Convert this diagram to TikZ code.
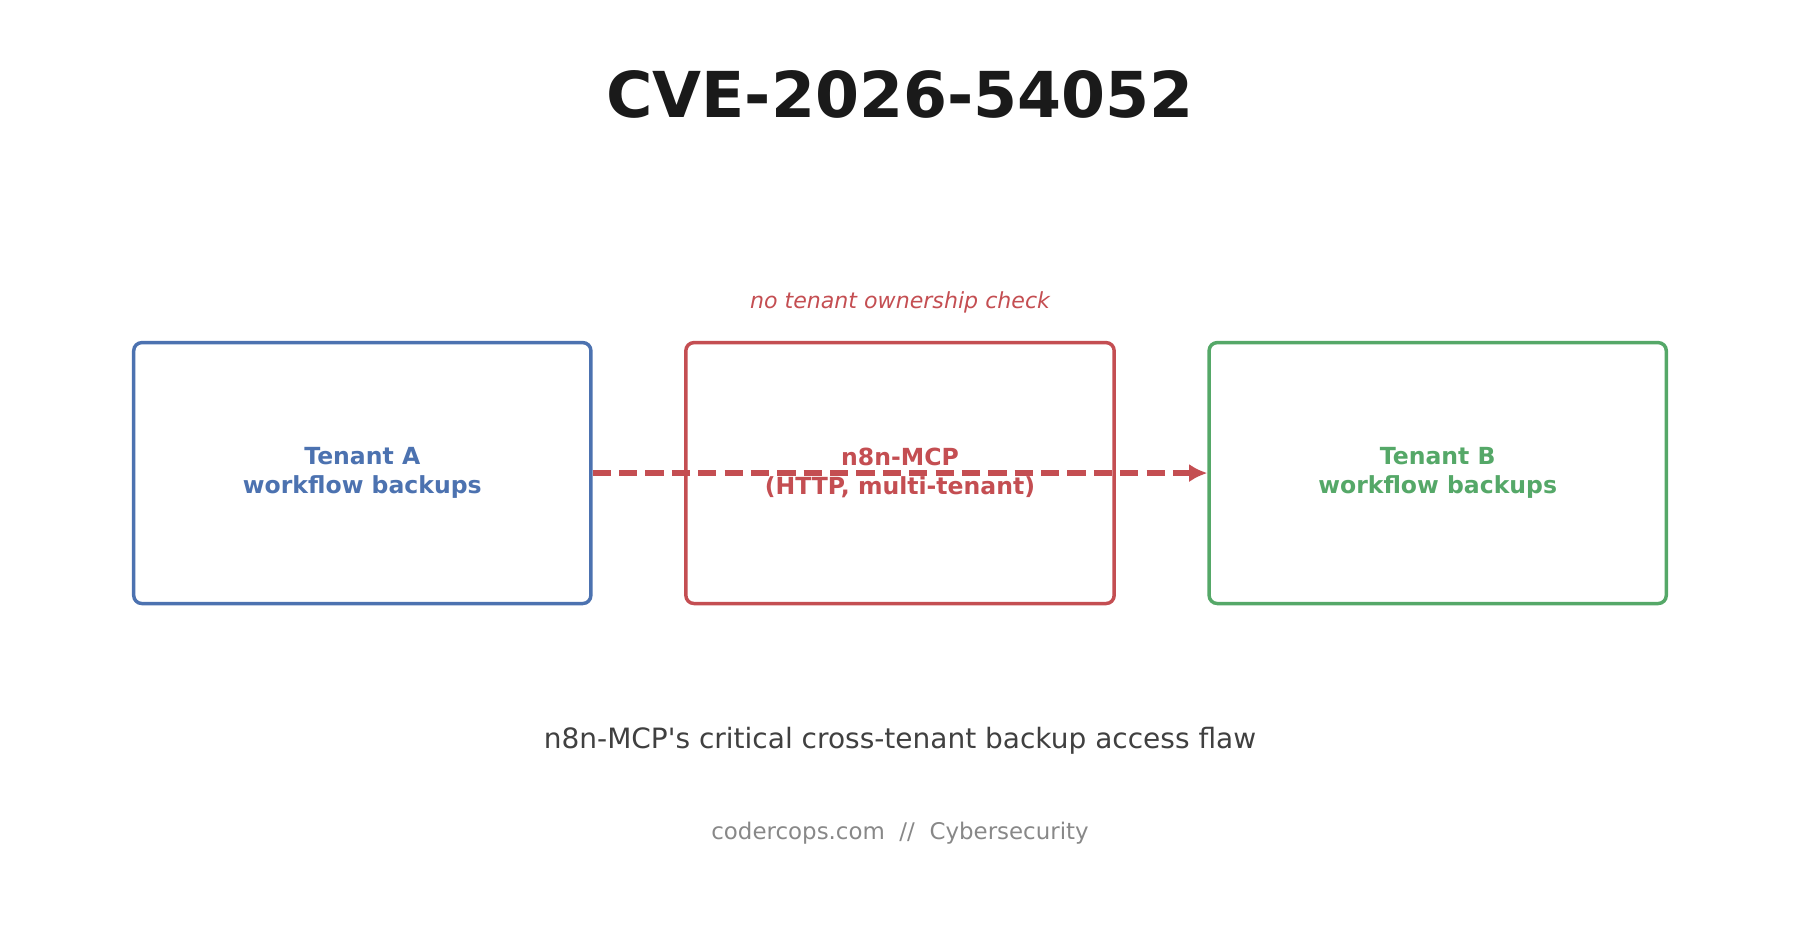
\documentclass[tikz,border=0pt]{standalone}
\usepackage{fontspec}
\setmainfont{DejaVu Sans}
\usetikzlibrary{arrows.meta,positioning}
\definecolor{tblue}{HTML}{4C72B0}
\definecolor{tred}{HTML}{C44E52}
\definecolor{tgreen}{HTML}{55A868}
\definecolor{tdark}{HTML}{1A1A1A}
\definecolor{tgray}{HTML}{404040}
\definecolor{tlight}{HTML}{888888}
\tikzset{
  box/.style={draw, rounded corners=2pt, line width=0.85pt, fill=white,
    minimum width=3.96cm, minimum height=2.26cm, align=center,
    font=\fontsize{5.8}{7}\selectfont\bfseries},
  flow/.style={-{Latex[length=4.5pt,width=4.5pt]}, line width=1.3pt, dash pattern=on 4.5pt off 2pt}
}
\begin{document}
\begin{tikzpicture}[x=0.01cm,y=-0.01cm]
    \useasboundingbox (0,0) rectangle (1560,819);

    \node[text=tdark, font=\fontsize{15.6}{18}\selectfont\bfseries] (title) at (780,82) {CVE-2026-54052};

    \node[box, draw=tblue, text=tblue] (tenantA) at (314,410) {Tenant A\\workflow backups};
    \node[box, draw=tred, text=tred, minimum width=3.71cm] (mcp) at (780,410) {n8n-MCP\\(HTTP, multi-tenant)};
    \node[box, draw=tgreen, text=tgreen] (tenantB) at (1246,410) {Tenant B\\workflow backups};

    \node[text=tred, font=\fontsize{5.45}{6.5}\selectfont\itshape, above=0.12cm of mcp] (check) {no tenant ownership check};

    \draw[flow, tred] (tenantA) -- (tenantB);

    \node[text=tgray, font=\fontsize{6.9}{8}\selectfont] (caption) at (780,642) {n8n-MCP\textquotesingle s critical cross-tenant backup access flaw};
    \node[text=tlight, font=\fontsize{5.65}{7}\selectfont] (footer) at (780,722) {codercops.com\ \ //\ \ Cybersecurity};
\end{tikzpicture}
\end{document}
